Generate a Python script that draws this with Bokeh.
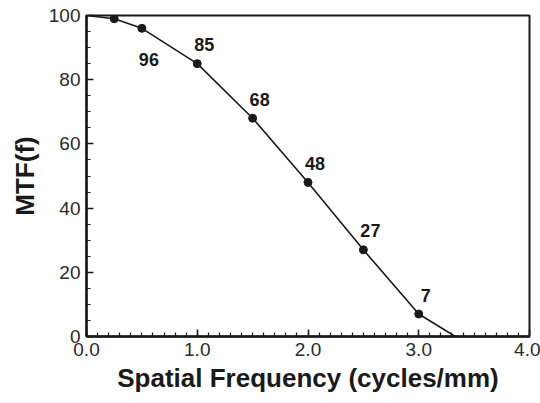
from bokeh.plotting import figure
from bokeh.models import SingleIntervalTicker, PrintfTickFormatter, ColumnDataSource
from bokeh.core.properties import value
from bokeh.embed import file_html
from bokeh.resources import INLINE

# data
curve_freq = [0.0, 0.25, 0.5, 1.0, 1.5, 2.0, 2.5, 3.0, 3.33]
curve_mtf = [100, 99, 96, 85, 68, 48, 27, 7, 0]
point_freq = [0.25, 0.5, 1.0, 1.5, 2.0, 2.5, 3.0]
point_mtf = [99, 96, 85, 68, 48, 27, 7]
label_freq = [0.5, 1.0, 1.5, 2.0, 2.5, 3.0]
label_mtf = [96, 85, 68, 48, 27, 7]
label_text = ["96", "85", "68", "48", "27", "7"]

FONT = "Liberation Sans"
INK = "#1a1a1a"

p = figure(width=540, height=403, output_backend="svg", toolbar_location=None,
           x_range=(0, 4), y_range=(0, 100),
           min_border_left=86, min_border_right=11, min_border_top=15, min_border_bottom=67)
p.grid.visible = False
p.outline_line_color = INK
p.outline_line_width = 2
p.background_fill_color = "white"
p.border_fill_color = "white"

p.xaxis.ticker = SingleIntervalTicker(interval=1, num_minor_ticks=10)
p.xaxis.formatter = PrintfTickFormatter(format="%.1f")
p.yaxis.ticker = SingleIntervalTicker(interval=20, num_minor_ticks=4)

for ax in (p.xaxis[0], p.yaxis[0]):
    ax.axis_line_color = INK
    ax.axis_line_width = 2.5
    ax.major_tick_line_color = INK
    ax.minor_tick_line_color = INK
    ax.major_tick_line_width = 1.5
    ax.minor_tick_line_width = 1.2
    ax.major_tick_in = 7
    ax.major_tick_out = 0
    ax.minor_tick_in = 4
    ax.minor_tick_out = 0
    ax.major_label_text_font = FONT
    ax.major_label_text_font_size = "19px"
    ax.major_label_text_color = "#2a2a2a"
    ax.axis_label_text_font = FONT
    ax.axis_label_text_font_size = "26px"
    ax.axis_label_text_font_style = "bold"
    ax.axis_label_text_color = INK

p.xaxis.axis_label = "Spatial Frequency (cycles/mm)"
p.yaxis.axis_label = "MTF(f)"
p.xaxis.major_label_standoff = 6
p.xaxis.axis_label_standoff = 4
p.yaxis.major_label_standoff = 6
p.yaxis.axis_label_standoff = 6

p.line(curve_freq, curve_mtf, line_color=INK, line_width=1.6)
p.scatter(point_freq, point_mtf, size=8, fill_color=INK, line_color=INK)

y_offs = [31 if i == 0 else -19 for i in range(len(label_text))]
src = ColumnDataSource(dict(x=label_freq, y=label_mtf, t=label_text, yo=y_offs))
p.text(x="x", y="y", text="t", source=src, x_offset=7, y_offset="yo",
       text_align="center", text_baseline="middle",
       text_font=value(FONT), text_font_size="18px", text_font_style="bold",
       text_color=INK)

open("out.html", "w").write(file_html(p, INLINE))
